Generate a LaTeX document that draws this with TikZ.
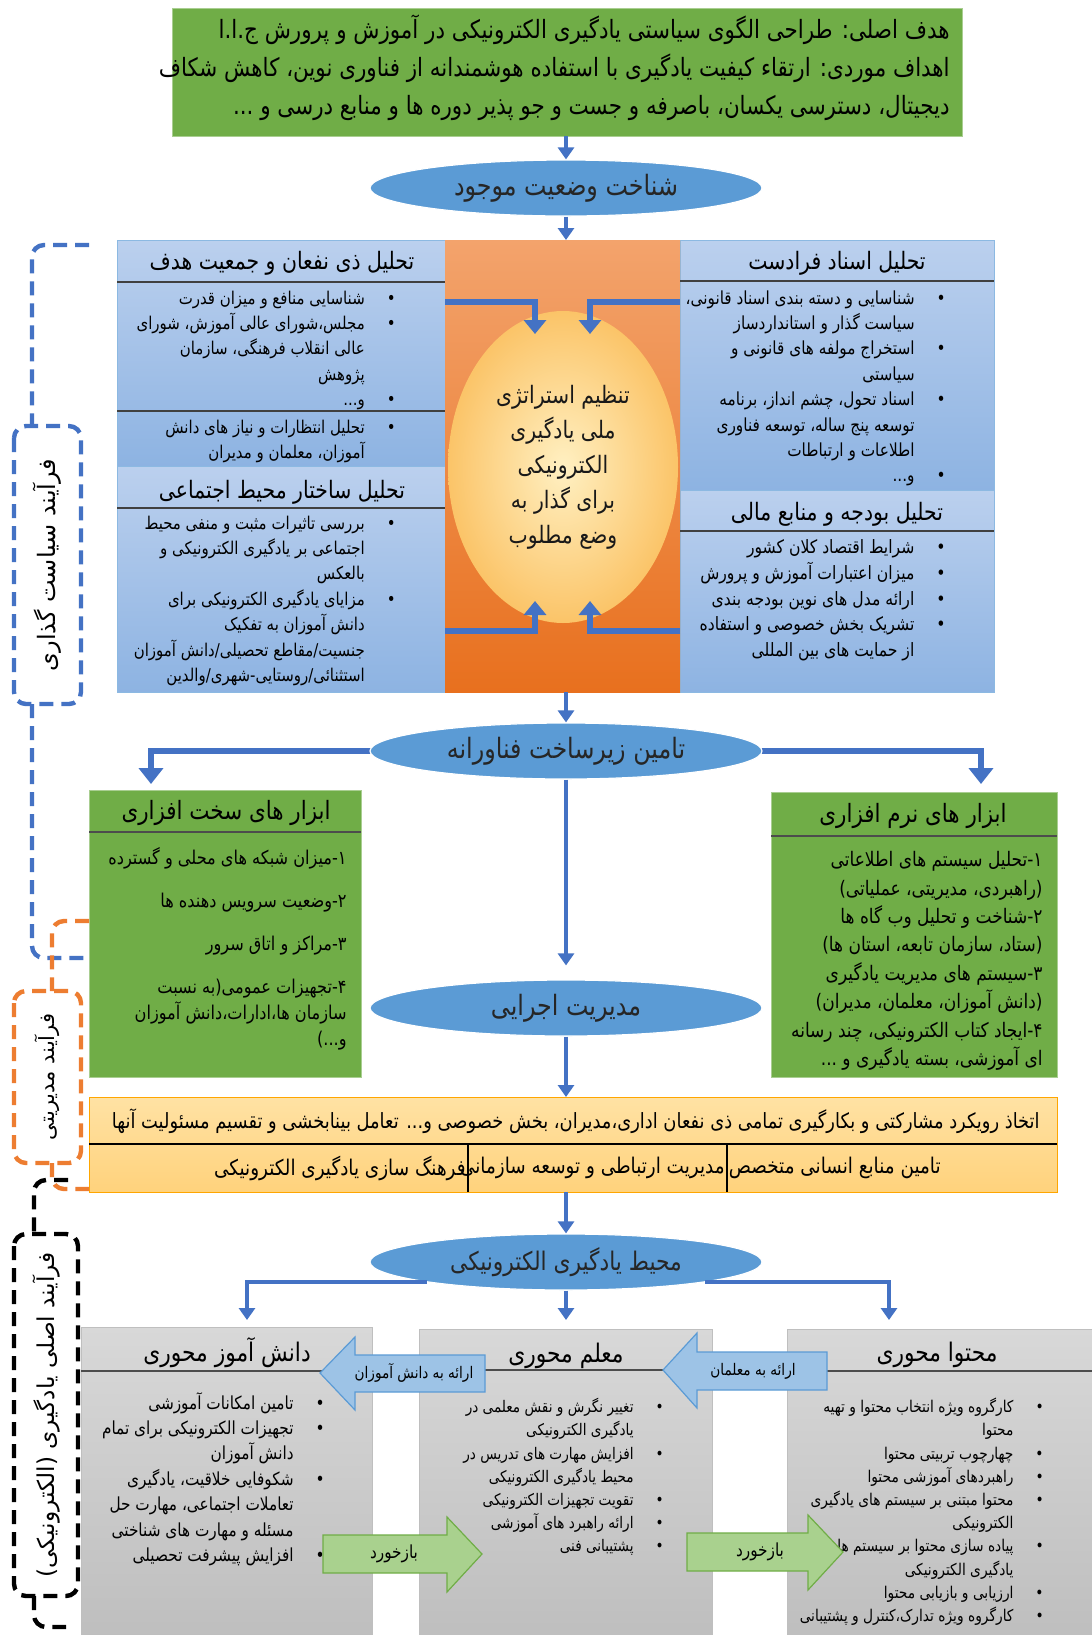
\documentclass[tikz,border=0pt]{standalone}
\usepackage{fontspec}
\usepackage{tikz}
\usetikzlibrary{arrows.meta,shapes.geometric}
\TeXXeTstate=1
\newfontfamily\farsi[Script=Arabic,FakeStretch=0.85]{DejaVu Sans}
\newfontfamily\farsiw[Script=Arabic]{DejaVu Sans}
\newcommand\fa[1]{\beginR #1\endR}
\newcommand\blist[1]{\begin{tabular}{@{}r@{\hspace{11pt}}c@{}}#1\end{tabular}}
\definecolor{obl}{HTML}{4472C4}
\definecolor{oel}{HTML}{5B9BD5}
\definecolor{ogr}{HTML}{70AD47}
\definecolor{oor}{HTML}{ED7D31}
\definecolor{pbT}{HTML}{BBD0EE}
\definecolor{pbB}{HTML}{8DB3E2}
\definecolor{orT}{HTML}{F3A36C}
\definecolor{orB}{HTML}{E8701E}
\definecolor{ylT}{HTML}{FFE2A4}
\definecolor{ylB}{HTML}{FFD27C}
\definecolor{grT}{HTML}{D8D8D8}
\definecolor{grB}{HTML}{BEBEBE}
\definecolor{abF}{HTML}{9DC3E6}
\definecolor{agF}{HTML}{A9D18E}
\definecolor{stIn}{HTML}{FFF0C2}
\definecolor{stOut}{HTML}{FBC468}

\begin{document}
\begin{tikzpicture}[x=0.5pt,y=-0.5pt,
  every node/.style={font=\farsi, inner sep=0pt},
  elli/.style={ellipse, fill=oel, draw=white, line width=0.6pt, minimum width=196pt,
    minimum height=28pt, font=\farsi\fontsize{14}{16}\selectfont, text=black!85},
  hdr/.style={font=\farsi\fontsize{12}{14}\selectfont},
  lst/.style={font=\farsi\fontsize{9}{12.7}\selectfont, anchor=north east, align=right},
  flow/.style={draw=obl, line width=2pt, -{Triangle[length=6pt,width=8pt]}},
  branch/.style={draw=obl, line width=3pt, -{Triangle[length=8pt,width=12pt]}},
  elbow/.style={draw=obl, line width=3.2pt, -{Triangle[length=7pt,width=11pt]}},
  hline/.style={draw=black!75, line width=1pt},
  bracket/.style={line width=2.2pt, dash pattern=on 7pt off 4pt, rounded corners=6pt},
  lbl/.style={rotate=90, font=\farsiw\fontsize{10.5}{12}\selectfont},
  cell/.style={anchor=east, font=\farsi\fontsize{10.8}{12}\selectfont},
  tag/.style={font=\farsi\fontsize{8}{10}\selectfont},
]
\fill[white] (0,0) rectangle (1092,1635);
\useasboundingbox (0,0) rectangle (1092,1635);

% goal box
\path[fill=ogr, draw=ogr!60!white] (172,8) rectangle (962,136);
\node[anchor=north east, align=right, font=\farsi\fontsize{12.6}{19}\selectfont] (goal) at (950,14)
  {\fa{هدف اصلی: طراحی الگوی سیاستی یادگیری الکترونیکی در آموزش و پرورش ج.ا.ا}\\
   \fa{اهداف موردی: ارتقاء کیفیت یادگیری با استفاده هوشمندانه از فناوری نوین، کاهش شکاف}\\
   \fa{دیجیتال، دسترسی یکسان، باصرفه و جست و جو پذیر دوره ها و منابع درسی و ...}};

\node[elli] (shenakht) at (566,188) {\fa{شناخت وضعیت موجود}};
\coordinate (goalb) at (566,136);
\coordinate (polt) at (566,240);
\draw[flow] (goalb) -- (shenakht.north);
\draw[flow] (shenakht.south) -- (polt);

% policy block
\path[shade, top color=pbT, bottom color=pbB, draw=oel!70] (117,240) rectangle (445,466);
\path[shade, top color=pbT, bottom color=pbB, draw=oel!70] (117,466) rectangle (445,692);
\path[shade, top color=pbT, bottom color=pbB, draw=oel!70] (680,240) rectangle (994,490);
\path[shade, top color=pbT, bottom color=pbB, draw=oel!70] (680,490) rectangle (994,692);
\path[shade, top color=orT, bottom color=orB] (445,240) rectangle (680,692);
\draw[hline] (117,282) -- (445,282);
\draw[hline] (117,411) -- (445,411);
\draw[hline] (117,508) -- (445,508);
\draw[hline] (680,281) -- (994,281);
\draw[hline] (680,531) -- (994,531);

\node[hdr] (zinaf) at (282,263) {\fa{تحلیل ذی نفعان و جمعیت هدف}};
\node[lst, font=\farsi\fontsize{8.8}{12.7}\selectfont] (zinafl) at (396,286) {\blist{
  \fa{شناسایی منافع و میزان قدرت} & • \\
  \fa{مجلس،شورای عالی آموزش، شورای} & • \\
  \fa{عالی انقلاب فرهنگی، سازمان} & \\
  \fa{پژوهش} & \\
  \fa{و...} & • }};
\node[lst, font=\farsi\fontsize{8.8}{12.7}\selectfont] (entez) at (396,415) {\blist{
  \fa{تحلیل انتظارات و نیاز های دانش} & • \\
  \fa{آموزان، معلمان و مدیران} & }};
\node[hdr] (ejt) at (282,492) {\fa{تحلیل ساختار محیط اجتماعی}};
\node[lst, font=\farsi\fontsize{8.8}{12.7}\selectfont] (ejtl) at (396,511) {\blist{
  \fa{بررسی تاثیرات مثبت و منفی محیط} & • \\
  \fa{اجتماعی بر یادگیری الکترونیکی و} & \\
  \fa{بالعکس} & \\
  \fa{مزایای یادگیری الکترونیکی برای} & • \\
  \fa{دانش آموزان به تفکیک} & \\
  \fa{جنسیت/مقاطع تحصیلی/دانش آموزان} & \\
  \fa{استثنائی/روستایی-شهری/والدین} & }};

\node[hdr] (asnad) at (837,263) {\fa{تحلیل اسناد فرادست}};
\node[lst] (asnadl) at (946,286) {\blist{
  \fa{شناسایی و دسته بندی اسناد قانونی،} & • \\
  \fa{سیاست گذار و استانداردساز} & \\
  \fa{استخراج مولفه های قانونی و} & • \\
  \fa{سیاستی} & \\
  \fa{اسناد تحول، چشم انداز، برنامه} & • \\
  \fa{توسعه پنج ساله، توسعه فناوری} & \\
  \fa{اطلاعات و ارتباطات} & \\
  \fa{و...} & • }};
\node[hdr] (budje) at (837,514) {\fa{تحلیل بودجه و منابع مالی}};
\node[lst, font=\farsi\fontsize{9.2}{12.9}\selectfont] (budjel) at (946,535) {\blist{
  \fa{شرایط اقتصاد کلان کشور} & • \\
  \fa{میزان اعتبارات آموزش و پرورش} & • \\
  \fa{ارائه مدل های نوین بودجه بندی} & • \\
  \fa{تشریک بخش خصوصی و استفاده} & • \\
  \fa{از حمایت های بین المللی} & }};

\node[ellipse, minimum width=115pt, minimum height=156pt, shading=radial,
  inner color=stIn, outer color=stOut, align=center, text=black!90,
  font=\farsi\fontsize{12}{17.5}\selectfont] (strat) at (563,467)
  {\fa{تنظیم استراتژی}\\ \fa{ملی یادگیری}\\ \fa{الکترونیکی}\\ \fa{برای گذار به}\\ \fa{وضع مطلوب}};
\coordinate (tl) at (445,302); \coordinate (tr) at (680,302);
\coordinate (bl) at (445,631); \coordinate (br) at (680,631);
\draw[elbow] (tl) -| (535,334);
\draw[elbow] (tr) -| (590,334);
\draw[elbow] (bl) -| (535,601);
\draw[elbow] (br) -| (590,601);

% infrastructure
\coordinate (polb) at (566,692);
\coordinate (hwin) at (151,784);
\coordinate (swin) at (981,784);
\draw[branch] (566,751) -| (hwin);
\draw[branch] (566,751) -| (swin);
\node[elli] (zir) at (566,751) {\fa{تامین زیرساخت فناورانه}};
\draw[flow] (polb) -- (zir.north);

\path[fill=ogr, draw=ogr!60!white] (89,790) rectangle (361,1077);
\draw[hline, black!70] (89,832) -- (361,832);
\node[hdr, font=\farsi\fontsize{12.6}{14}\selectfont] (sakht) at (226,813) {\fa{ابزار های سخت افزاری}};
\node[lst, font=\farsi\fontsize{9.5}{13}\selectfont] (sakhtl) at (347,847)
  {\fa{۱-میزان شبکه های محلی و گسترده}\\[8.5pt]
   \fa{۲-وضعیت سرویس دهنده ها}\\[8.5pt]
   \fa{۳-مراکز و اتاق سرور}\\[8.5pt]
   \fa{۴-تجهیزات عمومی(به نسبت}\\
   \fa{سازمان ها،ادارات،دانش آموزان}\\
   \fa{و...)}};

\path[fill=ogr, draw=ogr!60!white] (771,792) rectangle (1057,1077);
\draw[hline, black!70] (771,836) -- (1057,836);
\node[hdr, font=\farsi\fontsize{12.6}{14}\selectfont] (narm) at (913,816) {\fa{ابزار های نرم افزاری}};
\node[lst, font=\farsi\fontsize{10}{14.2}\selectfont] (narml) at (1043,851)
  {\fa{۱-تحلیل سیستم های اطلاعاتی}\\
   \fa{(راهبردی، مدیریتی، عملیاتی)}\\
   \fa{۲-شناخت و تحلیل وب گاه ها}\\
   \fa{(ستاد، سازمان تابعه، استان ها)}\\
   \fa{۳-سیستم های مدیریت یادگیری}\\
   \fa{(دانش آموزان، معلمان، مدیران)}\\
   \fa{۴-ایجاد کتاب الکترونیکی، چند رسانه}\\
   \fa{ای آموزشی، بسته یادگیری و ...}};

\node[elli] (modir) at (566,1008) {\fa{مدیریت اجرایی}};
\draw[flow, shorten >=7pt] (zir.south) -- (modir.north);

% management box
\coordinate (ylt) at (566,1097);
\coordinate (ylb) at (566,1192);
\draw[flow] (modir.south) -- (ylt);
\path[shade, top color=ylT, bottom color=ylB, draw=orange!70!yellow] (89,1097) rectangle (1057,1192);
\draw[hline, black, line width=1.3pt] (89,1144) -- (1057,1144);
\draw[hline, black, line width=1.3pt] (468,1144) -- (468,1192);
\draw[hline, black, line width=1.3pt] (727,1144) -- (727,1192);
\node[cell, font=\farsi\fontsize{10.5}{12}\selectfont] (rav) at (1040,1121)
  {\fa{اتخاذ رویکرد مشارکتی و بکارگیری تمامی ذی نفعان اداری،مدیران، بخش خصوصی و... تعامل بینابخشی و تقسیم مسئولیت آنها}};
\node[cell] (ensani) at (941,1168) {\fa{تامین منابع انسانی متخصص}};
\node[cell] (ertebat) at (725,1168) {\fa{مدیریت ارتباطی و توسعه سازمانی}};
\node[cell] (farhang) at (466,1168) {\fa{فرهنگ سازی یادگیری الکترونیکی}};

% learning environment
\node[elli, font=\farsi\fontsize{12.8}{15}\selectfont] (mohit) at (566,1262) {\fa{محیط یادگیری الکترونیکی}};
\draw[flow] (ylb) -- (mohit.north);
\coordinate (dLin) at (247,1320);
\coordinate (dMin) at (566,1320);
\coordinate (dRin) at (889,1320);

\path[shade, top color=grT, bottom color=grB, draw=gray!50] (81,1327) rectangle (372,1640);
\path[shade, top color=grT, bottom color=grB, draw=gray!50] (419,1329) rectangle (712,1640);
\path[shade, top color=grT, bottom color=grB, draw=gray!50] (787,1329) rectangle (1095,1640);
\draw[hline, black!70] (81,1371) -- (372,1371);
\draw[hline, black!70] (419,1370) -- (712,1370);
\draw[hline, black!70] (787,1371) -- (1092,1371);
\draw[flow] (mohit.south west) -| (dLin);
\draw[flow] (mohit.south) -- (dMin);
\draw[flow] (mohit.south east) -| (dRin);

\node[hdr, font=\farsi\fontsize{12.8}{15}\selectfont] (danesh) at (227,1353) {\fa{دانش آموز محوری}};
\node[hdr, font=\farsi\fontsize{12.8}{15}\selectfont] (moalem) at (566,1356) {\fa{معلم محوری}};
\node[hdr, font=\farsi\fontsize{12.8}{15}\selectfont] (mohtava) at (937,1355) {\fa{محتوا محوری}};

\node[lst, font=\farsi\fontsize{9}{12.7}\selectfont] (daneshl) at (325,1391) {\blist{
  \fa{تامین امکانات آموزشی} & • \\
  \fa{تجهیزات الکترونیکی برای تمام} & • \\
  \fa{دانش آموزان} & \\
  \fa{شکوفایی خلاقیت، یادگیری} & • \\
  \fa{تعاملات اجتماعی، مهارت حل} & \\
  \fa{مسئله و مهارت های شناختی} & \\
  \fa{افزایش پیشرفت تحصیلی} & • }};
\node[lst, font=\farsi\fontsize{8}{11.6}\selectfont] (moaleml) at (664,1396) {\blist{
  \fa{تغییر نگرش و نقش معلمی در} & • \\
  \fa{یادگیری الکترونیکی} & \\
  \fa{افزایش مهارت های تدریس در} & • \\
  \fa{محیط یادگیری الکترونیکی} & \\
  \fa{تقویت تجهیزات الکترونیکی} & • \\
  \fa{ارائه راهبرد های آموزشی} & • \\
  \fa{پشتیبانی فنی} & • }};
\node[lst, font=\farsi\fontsize{8.1}{11.6}\selectfont] (mohtaval) at (1044,1396) {\blist{
  \fa{کارگروه ویژه انتخاب محتوا و تهیه} & • \\
  \fa{محتوا} & \\
  \fa{چهارچوب تربیتی محتوا} & • \\
  \fa{راهبردهای آموزشی محتوا} & • \\
  \fa{محتوا مبتنی بر سیستم های یادگیری} & • \\
  \fa{الکترونیکی} & \\
  \fa{پیاده سازی محتوا بر سیستم های} & • \\
  \fa{یادگیری الکترونیکی} & \\
  \fa{ارزیابی و بازیابی محتوا} & • \\
  \fa{کارگروه ویژه تدارک،کنترل و پشتیبانی} & • }};

% block arrows
\draw[fill=abF, draw=oel, line width=0.6pt] (485,1355) -- (355,1355) -- (355,1337) -- (320,1373)
  -- (355,1410) -- (355,1392) -- (485,1392) -- cycle;
\node[tag] (toSt) at (414,1373) {\fa{ارائه به دانش آموزان}};
\draw[fill=abF, draw=oel, line width=0.6pt] (827,1352) -- (697,1352) -- (697,1333) -- (663,1370)
  -- (697,1408) -- (697,1390) -- (827,1390) -- cycle;
\node[tag] (toTe) at (753,1371) {\fa{ارائه به معلمان}};
\draw[fill=agF, draw=ogr, line width=0.6pt] (323,1535) -- (447,1535) -- (447,1517) -- (482,1554)
  -- (447,1592) -- (447,1573) -- (323,1573) -- cycle;
\node[tag, font=\farsi\fontsize{9}{10}\selectfont] (fbA) at (394,1554) {\fa{بازخورد}};
\draw[fill=agF, draw=ogr, line width=0.6pt] (687,1533) -- (808,1533) -- (808,1515) -- (843,1552)
  -- (808,1590) -- (808,1571) -- (687,1571) -- cycle;
\node[tag, font=\farsi\fontsize{9}{10}\selectfont] (fbB) at (760,1552) {\fa{بازخورد}};

% process brackets
\node[lbl, draw=obl, bracket, minimum width=139pt, minimum height=33.5pt,
  font=\farsiw\fontsize{12}{14}\selectfont] (pPol) at (47.5,565) {\fa{فرآیند سیاست گذاری}};
\draw[bracket, obl] (89,245) -- (32,245) -- (32,426);
\draw[bracket, obl] (32,704) -- (32,958) -- (89,958);
\node[lbl, draw=oor, bracket, minimum width=86pt, minimum height=33.5pt] (pMan) at (47.5,1077)
  {\fa{فرآیند مدیریتی}};
\draw[bracket, oor] (89,921) -- (52,921) -- (52,991);
\draw[bracket, oor] (52,1163) -- (52,1189) -- (89,1189);
\node[lbl, draw=black, bracket, minimum width=181pt, minimum height=32pt,
  font=\farsiw\fontsize{11.6}{13}\selectfont] (pLrn) at (46,1415) {\fa{فرآیند اصلی یادگیری (الکترونیکی)}};
\draw[bracket, black] (68,1180) -- (34,1180) -- (34,1234);
\draw[bracket, black] (34,1596) -- (34,1627) -- (66,1627);
\end{tikzpicture}
\end{document}
